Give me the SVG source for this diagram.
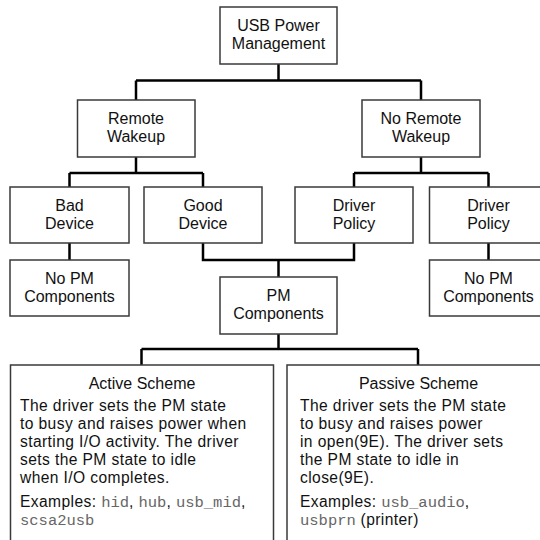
<svg xmlns="http://www.w3.org/2000/svg" width="540" height="540" viewBox="0 0 540 540">
<style>
.box{fill:#fff;stroke:#3a3a3a;stroke-width:1.5}
.lbl{font-family:"Liberation Sans",Arial,sans-serif;font-size:16px;fill:#111;text-anchor:middle}
.body{font-family:"Liberation Sans",Arial,sans-serif;font-size:15.6px;letter-spacing:0.4px;fill:#111}
.ttl{font-family:"Liberation Sans",Arial,sans-serif;font-size:16px;fill:#111;text-anchor:middle}
.mono{font-family:"Liberation Mono","Courier New",monospace;fill:#666;font-size:15.5px;letter-spacing:0}
.conn{fill:none;stroke:#000;stroke-width:2.5}
</style>
<rect width="540" height="540" fill="#fff"/>
<g id="connectors">
<path class="conn" d="M278.5 64V80.5M136 80.5H421M136 80.5V100M421 80.5V100"/>
<path class="conn" d="M136 157V173M69.5 173H203M69.5 173V187M203 173V187"/>
<path class="conn" d="M421 157V173M354 173H488.5M354 173V187M488.5 173V187"/>
<path class="conn" d="M69.5 243V260M488.5 243V260"/>
<path class="conn" d="M203 243V260H354V243M278.5 260V277"/>
<path class="conn" d="M278.5 334V349M141.5 349H418M141.5 349V365M418 349V365"/>
</g>
<g id="usb-pm"><rect class="box" x="220" y="7" width="117" height="57"/><text class="lbl" x="278.5" y="31">USB Power</text><text class="lbl" x="278.5" y="49">Management</text></g>
<g id="remote-wakeup"><rect class="box" x="77.5" y="100" width="117.5" height="57"/><text class="lbl" x="136" y="124">Remote</text><text class="lbl" x="136" y="142">Wakeup</text></g>
<g id="no-remote-wakeup"><rect class="box" x="362" y="100" width="118" height="57"/><text class="lbl" x="421" y="124">No Remote</text><text class="lbl" x="421" y="142">Wakeup</text></g>
<g id="bad-device"><rect class="box" x="10" y="187" width="119" height="56"/><text class="lbl" x="69.5" y="210.5">Bad</text><text class="lbl" x="69.5" y="228.5">Device</text></g>
<g id="good-device"><rect class="box" x="144" y="187" width="118" height="56"/><text class="lbl" x="203" y="210.5">Good</text><text class="lbl" x="203" y="228.5">Device</text></g>
<g id="driver-policy-1"><rect class="box" x="295" y="187" width="118" height="56"/><text class="lbl" x="354" y="210.5">Driver</text><text class="lbl" x="354" y="228.5">Policy</text></g>
<g id="driver-policy-2"><rect class="box" x="429.5" y="187" width="118" height="56"/><text class="lbl" x="488.5" y="210.5">Driver</text><text class="lbl" x="488.5" y="228.5">Policy</text></g>
<g id="no-pm-left"><rect class="box" x="10" y="260" width="119" height="56"/><text class="lbl" x="69.5" y="283.5">No PM</text><text class="lbl" x="69.5" y="301.5">Components</text></g>
<g id="no-pm-right"><rect class="box" x="429.5" y="260" width="118" height="56"/><text class="lbl" x="488.5" y="283.5">No PM</text><text class="lbl" x="488.5" y="301.5">Components</text></g>
<g id="pm-components"><rect class="box" x="220" y="277" width="117" height="57"/><text class="lbl" x="278.5" y="301">PM</text><text class="lbl" x="278.5" y="319">Components</text></g>
<g id="active-scheme"><rect class="box" x="10.5" y="365" width="263" height="190"/>
<text class="ttl" x="142" y="389">Active Scheme</text>
<text class="body" x="20" y="411">The driver sets the PM state</text>
<text class="body" x="20" y="429">to busy and raises power when</text>
<text class="body" x="20" y="447">starting I/O activity. The driver</text>
<text class="body" x="20" y="465">sets the PM state to idle</text>
<text class="body" x="20" y="483">when I/O completes.</text>
<text class="body" x="20" y="507">Examples: <tspan class="mono">hid</tspan>,  <tspan class="mono">hub</tspan>, <tspan class="mono">usb_mid</tspan>,</text>
<text class="body" x="20" y="525"><tspan class="mono">scsa2usb</tspan></text>
</g>
<g id="passive-scheme"><rect class="box" x="287" y="365" width="263" height="190"/>
<text class="ttl" x="418.5" y="389">Passive Scheme</text>
<text class="body" x="300" y="411">The driver sets the PM state</text>
<text class="body" x="300" y="429">to busy and raises power</text>
<text class="body" x="300" y="447">in open(9E). The driver sets</text>
<text class="body" x="300" y="465">the PM state to idle in</text>
<text class="body" x="300" y="483">close(9E).</text>
<text class="body" x="300" y="507">Examples: <tspan class="mono">usb_audio</tspan>,</text>
<text class="body" x="300" y="525"><tspan class="mono">usbprn</tspan>  (printer)</text>
</g>
</svg>
